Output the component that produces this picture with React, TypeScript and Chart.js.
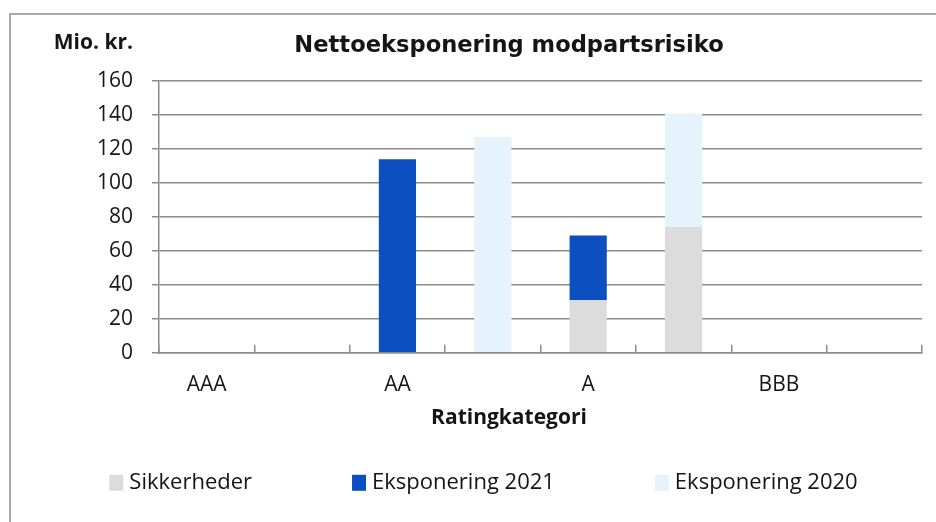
import { useEffect, useRef } from "react";
import { Chart, registerables } from "chart.js";

Chart.register(...registerables);

// ---- data ----
const ratings = ["AAA", "AA", "A", "BBB"];
const sikkerheder2021 = [0, 0, 31, 0];
const sikkerheder2020 = [0, 0, 74, 0];
const eksponering2021 = [0, 114, 38, 0];
const eksponering2020 = [0, 127, 67, 0];
const seriesNames = ["Sikkerheder", "Eksponering 2021", "Eksponering 2020"];
const yMin = 0;
const yMax = 160;
const yStep = 20;
const chartTitle = "Nettoeksponering modpartsrisiko";
const unitLabel = "Mio. kr.";
const xAxisTitle = "Ratingkategori";

// ---- styles ----
const COLOR_GREY = "#DCDCDC";
const COLOR_BLUE = "#0B4FC1";
const COLOR_LIGHT = "#E4F3FC";
const GRID = "#8c8c8c";
const TEXT = "#151515";

// each rating occupies two slots: 2021 stack, then 2020 stack
const nz = (v: number) => (v === 0 ? null : v);
const slotLabels = ratings.flatMap((r) => [r, ""]);
const sikData = ratings.flatMap((_, i) => [nz(sikkerheder2021[i]), nz(sikkerheder2020[i])]);
const e21Data = ratings.flatMap((_, i) => [nz(eksponering2021[i]), null]);
const e20Data = ratings.flatMap((_, i) => [null, nz(eksponering2020[i])]);

const extrasPlugin = {
  id: "extras",
  afterDraw(chart: any) {
    const ctx = chart.ctx;
    const area = chart.chartArea;
    const yScale = chart.scales.y;
    ctx.save();
    // unit label above the y axis
    ctx.font = "bold 21px 'Open Sans'";
    ctx.fillStyle = TEXT;
    ctx.textAlign = "right";
    ctx.textBaseline = "alphabetic";
    ctx.fillText(unitLabel, yScale.right - 26, area.top - 32);

    // legend
    ctx.font = "22px 'Open Sans'";
    const boxW = 14;
    const boxH = 16;
    const boxGap = 6;
    const itemGap = 100;
    const items = chart.data.datasets.map((ds: any) => ({
      text: ds.label,
      color: ds.backgroundColor,
      w: ctx.measureText(ds.label).width,
    }));
    const total =
      items.reduce((s: number, it: any) => s + boxW + boxGap + it.w, 0) +
      itemGap * (items.length - 1);
    let x = (area.left + area.right) / 2 - 57 - total / 2;
    const cy = area.bottom + 130;
    items.forEach((it: any) => {
      ctx.fillStyle = it.color;
      ctx.fillRect(x, cy - boxH / 2, boxW, boxH);
      ctx.fillStyle = TEXT;
      ctx.textAlign = "left";
      ctx.textBaseline = "middle";
      ctx.fillText(it.text, x + boxW + boxGap, cy);
      x += boxW + boxGap + it.w + itemGap;
    });
    ctx.restore();
  },
};

export default function App() {
  const canvasRef = useRef<HTMLCanvasElement | null>(null);

  useEffect(() => {
    if (!canvasRef.current) return;
    Chart.defaults.font.family = "'Open Sans', sans-serif";
    const chart = new Chart(canvasRef.current, {
      type: "bar",
      data: {
        labels: slotLabels,
        datasets: [
          { label: seriesNames[0], data: sikData, backgroundColor: COLOR_GREY, borderWidth: 0 },
          { label: seriesNames[1], data: e21Data, backgroundColor: COLOR_BLUE, borderWidth: 0 },
          { label: seriesNames[2], data: e20Data, backgroundColor: COLOR_LIGHT, borderWidth: 0 },
        ],
      },
      options: {
        responsive: false,
        animation: false,
        devicePixelRatio: 1,
        datasets: { bar: { barPercentage: 0.39, categoryPercentage: 1 } },
        layout: { padding: { left: 96, right: 14, top: 0, bottom: 91 } },
        plugins: {
          legend: { display: false },
          tooltip: { enabled: false },
          title: {
            display: true,
            text: chartTitle,
            color: TEXT,
            font: { family: "'DejaVu Sans'", size: 22.6, weight: "bold" },
            padding: { top: 33, bottom: 20.9 },
          },
          subtitle: {
            display: true,
            text: xAxisTitle,
            position: "bottom",
            color: TEXT,
            font: { family: "'Open Sans'", size: 21, weight: "bold" },
            padding: { top: 3, bottom: 0 },
          },
        },
        scales: {
          x: {
            stacked: true,
            grid: { drawOnChartArea: false, tickLength: -8, color: GRID, lineWidth: 1.5 },
            border: { color: GRID, width: 1.5 },
            ticks: { autoSkip: false, maxRotation: 0, padding: 28, color: TEXT, font: { size: 21 } },
            afterFit: (s: any) => {
              s.height = 50;
            },
          },
          y: {
            stacked: true,
            min: yMin,
            max: yMax,
            ticks: { stepSize: yStep, padding: 19, color: TEXT, font: { size: 21 } },
            grid: { tickLength: 7, color: GRID, lineWidth: 1.5 },
            border: { color: GRID, width: 1.5 },
            afterFit: (s: any) => {
              s.width = 63;
            },
          },
        },
      },
      plugins: [extrasPlugin],
    } as any);
    return () => chart.destroy();
  }, []);

  return (
    <>
      <div style={{ position: "fixed", left: 0, top: 0, width: 936, height: 522, background: "#fff" }}>
        <canvas ref={canvasRef} width={936} height={522} style={{ width: 936, height: 522, display: "block" }} />
      </div>
      <div
        style={{
          position: "fixed",
          left: 9,
          top: 13,
          width: 940,
          height: 520,
          borderTop: "2px solid #a9a9a9",
          borderLeft: "2px solid #a9a9a9",
          pointerEvents: "none",
        }}
      />
    </>
  );
}
